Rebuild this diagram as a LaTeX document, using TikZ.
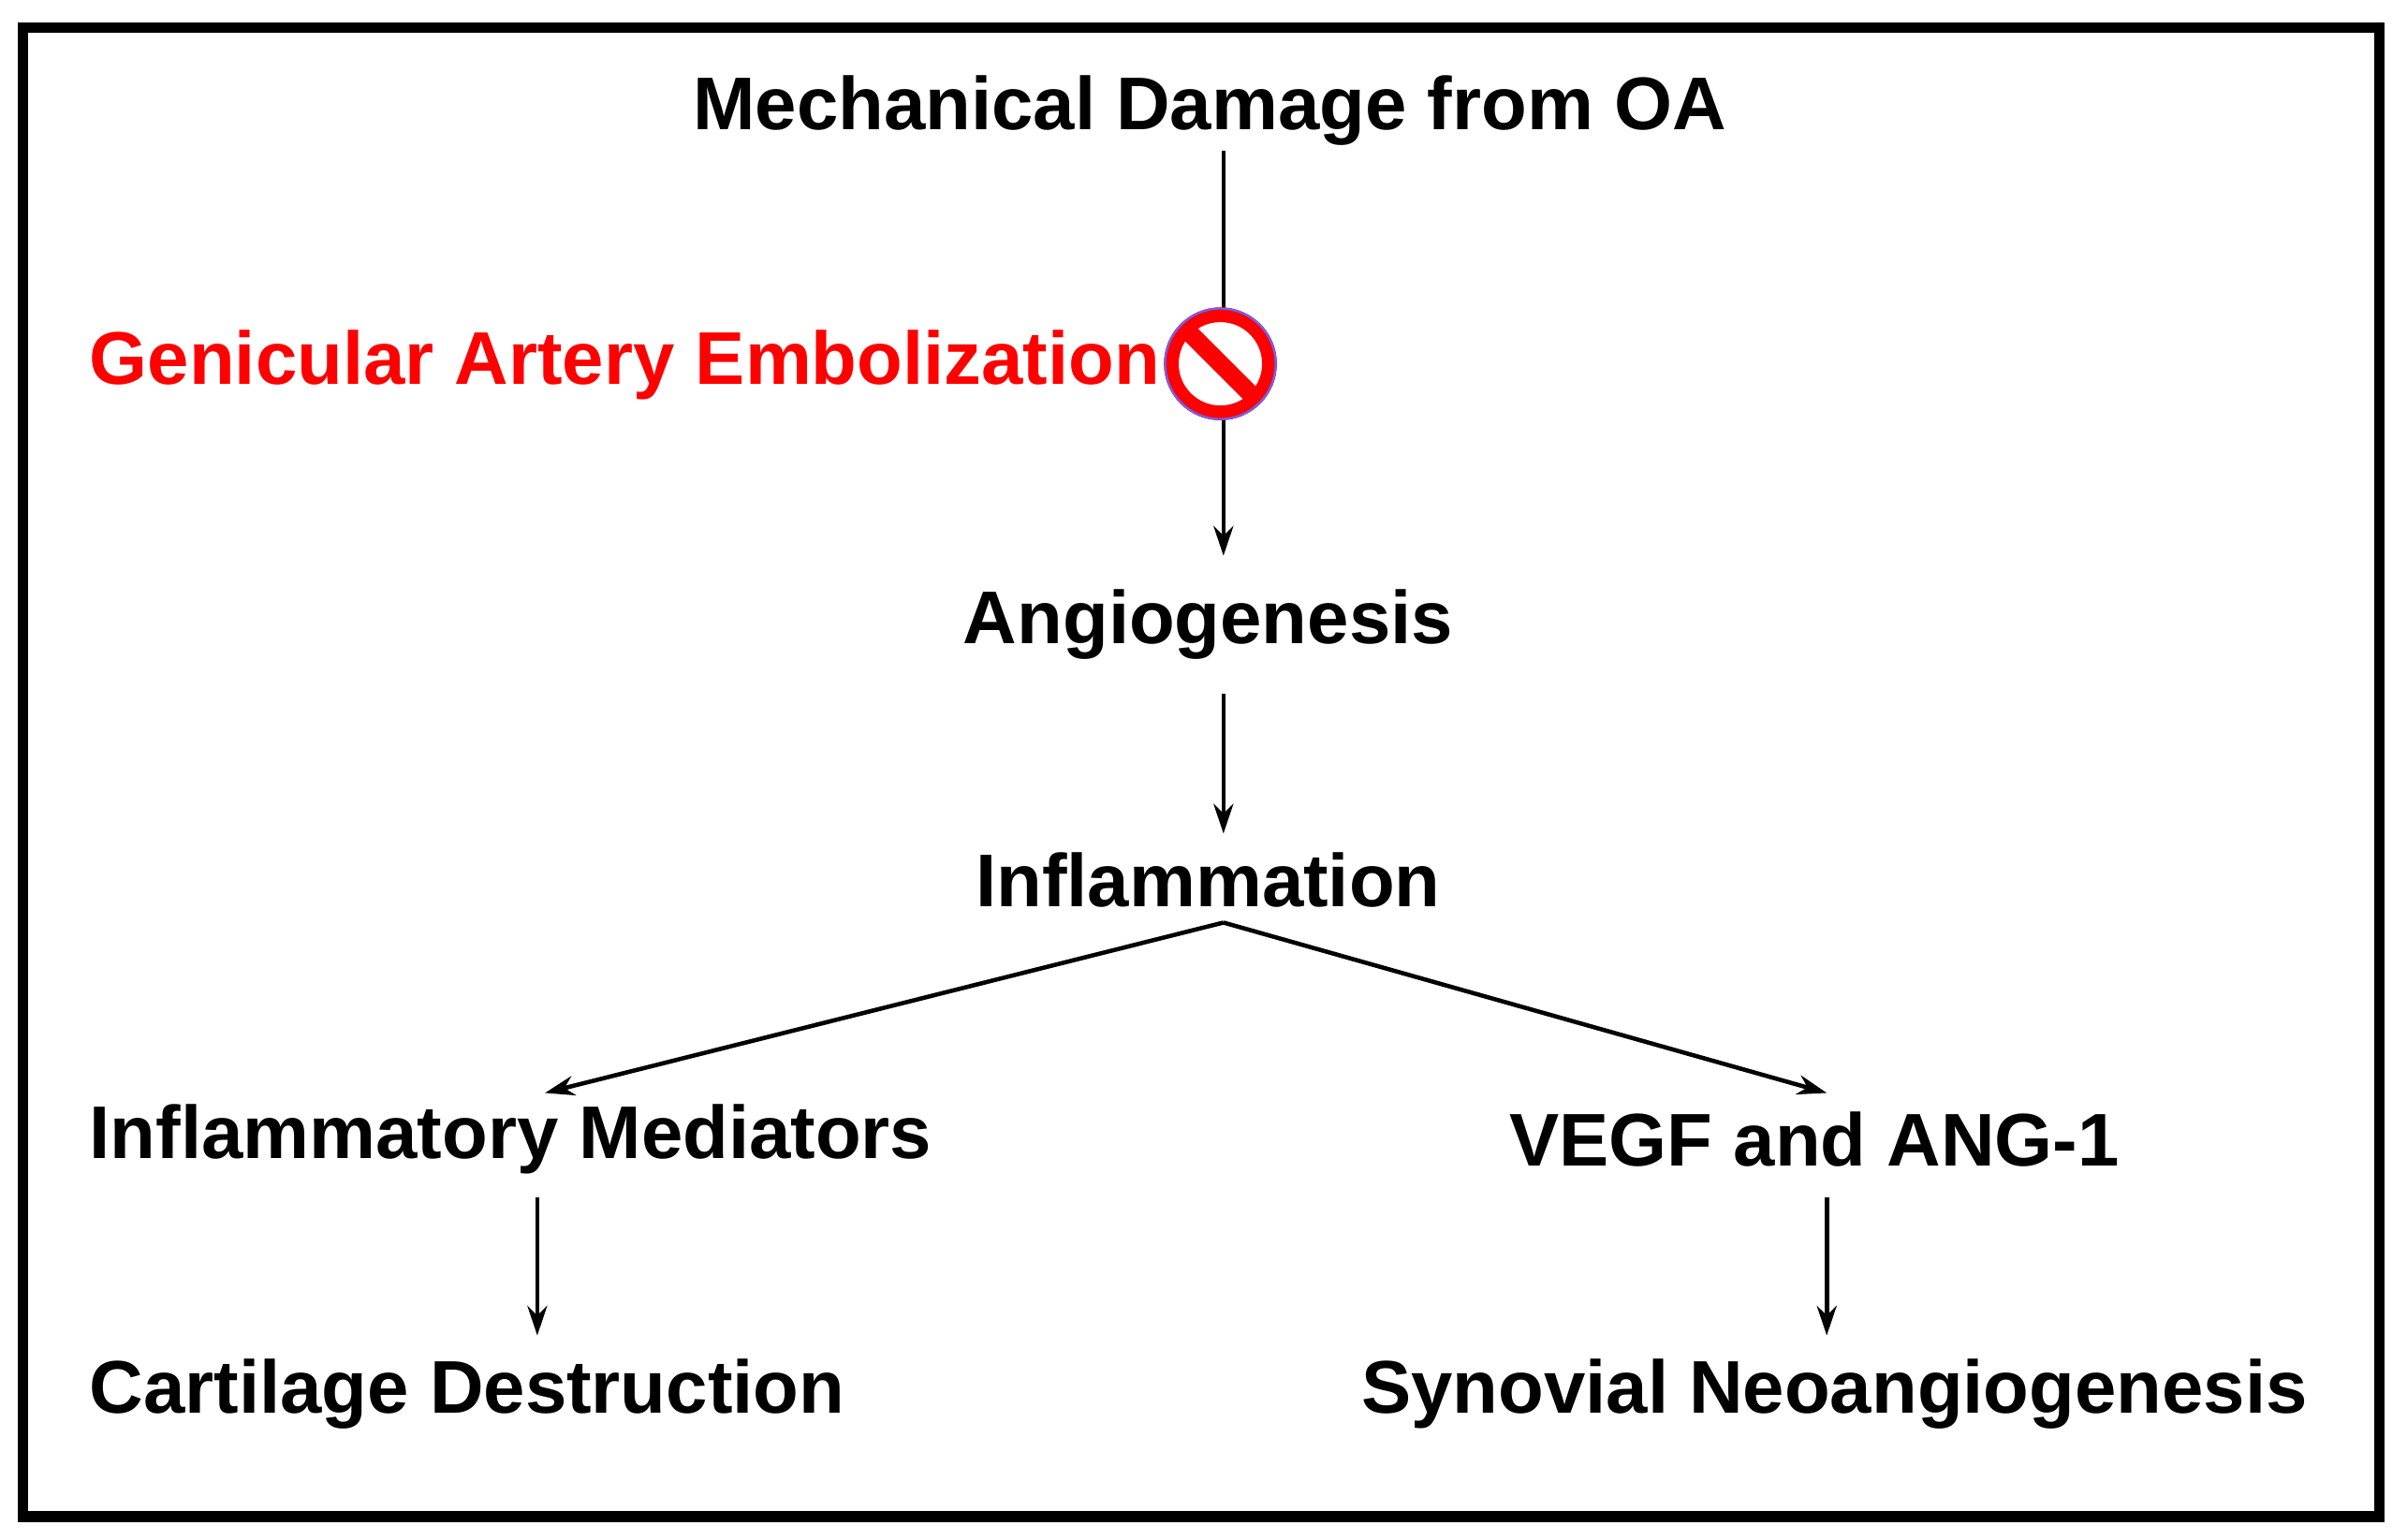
\documentclass[tikz,border=0pt]{standalone}
\usepackage{fontspec}
\setmainfont{Liberation Sans}
\usetikzlibrary{arrows.meta,calc}
\begin{document}
\begin{tikzpicture}[x=0.0164cm,y=-0.0164cm,
  lab/.style={font=\fontsize{22.7}{26}\selectfont\bfseries,inner sep=0pt},
  arr/.style={line width=1.3pt,-{Stealth[length=9pt,width=6pt]}}]
\useasboundingbox (0,0) rectangle (1568,1003);
\draw[line width=3.2pt] (15,18) rectangle (1550,988);
\node[lab] (m) at (788,72) {Mechanical Damage from OA};
\node[lab,text=red,anchor=west] (g) at (58,238) {Genicular Artery Embolization};
\node[lab] (a) at (787,407) {Angiogenesis};
\node[lab] (i) at (787,573) {Inflammation};
\node[lab,anchor=west] (im) at (58,742) {Inflammatory Mediators};
\node[lab] (v) at (1182,742) {VEGF and ANG-1};
\node[lab,anchor=west] (c) at (58,908) {Cartilage Destruction};
\node[lab] (s) at (1195,908) {Synovial Neoangiogenesis};
\coordinate (t1) at (797,98);
\coordinate (t2) at (797,362);
\draw[arr] (t1) -- (t2);
\coordinate (p) at (795,237);
\draw[line width=4.5pt,red,fill=white] (p) circle (32);
\draw[line width=0.6pt,blue!60] (p) circle (36);
\draw[line width=5.5pt,red] ($(p)+(-22,-22)$) -- ($(p)+(22,22)$);
\coordinate (a1) at (797,452);
\coordinate (a2) at (797,543);
\draw[arr] (a1) -- (a2);
\coordinate (i0) at (797,601);
\coordinate (il) at (355,712);
\coordinate (ir) at (1190,712);
\draw[arr] (i0) -- (il);
\draw[arr] (i0) -- (ir);
\coordinate (l1) at (350,780);
\coordinate (l2) at (350,870);
\draw[arr] (l1) -- (l2);
\coordinate (r1) at (1190,780);
\coordinate (r2) at (1190,870);
\draw[arr] (r1) -- (r2);
\end{tikzpicture}
\end{document}
